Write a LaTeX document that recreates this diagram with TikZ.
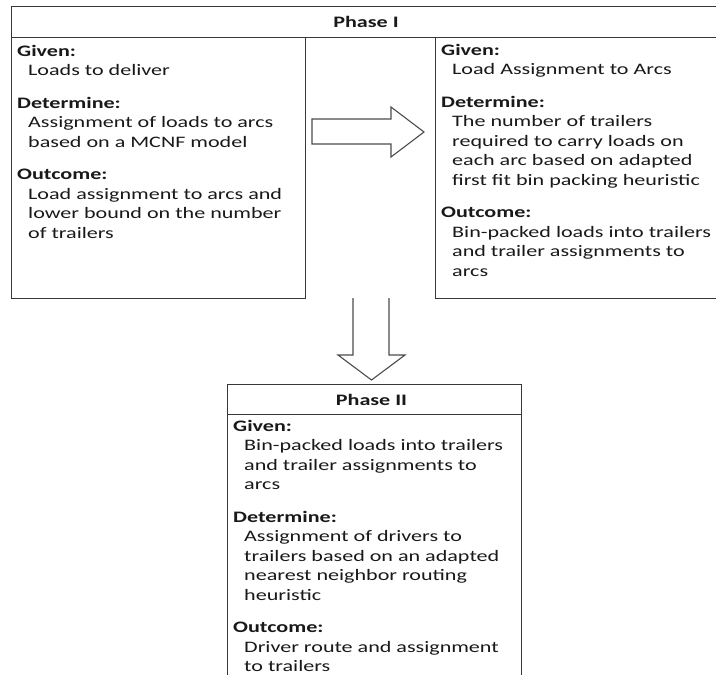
\documentclass[tikz,border=0pt]{standalone}
\usepackage{fontspec}
\setmainfont{Carlito}[FakeStretch=1.38]
\newcommand\hd[1]{\textbf{#1}\par}
\newcommand\tx[1]{\hspace*{11pt}#1\par}
\newcommand\gp{\vspace{13pt}}
\newcommand\blk[2]{\parbox[t]{#1}{\fontsize{16pt}{19.5pt}\selectfont\raggedright\setlength{\parskip}{0pt}#2}}
\begin{document}
\begin{tikzpicture}[x=1pt,y=-1pt,
  box/.style={draw=black!78, line width=1.2pt, inner sep=0pt, fill=white},
  txt/.style={anchor=base west, inner sep=0pt, text=black!90},
  ttl/.style={anchor=base, inner sep=0pt, text=black!90, font=\fontsize{16pt}{19.5pt}\selectfont\bfseries},
  blockarrow/.style={draw=black!70, line width=1.1pt, fill=white, line join=miter}]
\useasboundingbox (0,0) rectangle (716,675);
\fill[white] (0,0) rectangle (716,675);
% Phase I
\node[box, anchor=north west, minimum width=730pt, minimum height=31pt] (h1) at (11,6) {};
\node[ttl] (t1) at (366,27) {Phase I};
\node[box, anchor=north west, minimum width=294pt, minimum height=261pt] (lb) at (11,37) {};
\node[box, anchor=north west, minimum width=300pt, minimum height=261pt] (rb) at (435,37) {};
\node[txt] (lt) at (17,56) {\blk{285pt}{%
  \hd{Given:}\tx{Loads to deliver}\gp
  \hd{Determine:}\tx{Assignment of loads to arcs}\tx{based on a MCNF model}\gp
  \hd{Outcome:}\tx{Load assignment to arcs and}\tx{lower bound on the number}\tx{of trailers}}};
\node[txt] (rt) at (441,55) {\blk{285pt}{%
  \hd{Given:}\tx{Load Assignment to Arcs}\gp
  \hd{Determine:}\tx{The number of trailers}\tx{required to carry loads on}\tx{each arc based on adapted}\tx{first fit bin packing heuristic}\gp
  \hd{Outcome:}\tx{Bin-packed loads into trailers}\tx{and trailer assignments to}\tx{arcs}}};
% right block arrow
\draw[blockarrow] (312,119) -- (391,119) -- (391,107) -- (424,132) -- (391,157) -- (391,144) -- (312,144) -- cycle;
% down block arrow
\draw[blockarrow] (353,298) -- (353,355) -- (338,355) -- (371.5,380) -- (405,355) -- (389,355) -- (389,298);
% Phase II
\node[box, anchor=north west, minimum width=294pt, minimum height=30pt] (h2) at (227,384) {};
\node[ttl] (t2) at (371.5,405) {Phase II};
\node[box, anchor=north west, minimum width=294pt, minimum height=300pt] (pb) at (227,414) {};
\node[txt] (pt) at (233,431) {\blk{285pt}{%
  \hd{Given:}\tx{Bin-packed loads into trailers}\tx{and trailer assignments to}\tx{arcs}\gp
  \hd{Determine:}\tx{Assignment of drivers to}\tx{trailers based on an adapted}\tx{nearest neighbor routing}\tx{heuristic}\gp
  \hd{Outcome:}\tx{Driver route and assignment}\tx{to trailers}}};
\end{tikzpicture}
\end{document}
